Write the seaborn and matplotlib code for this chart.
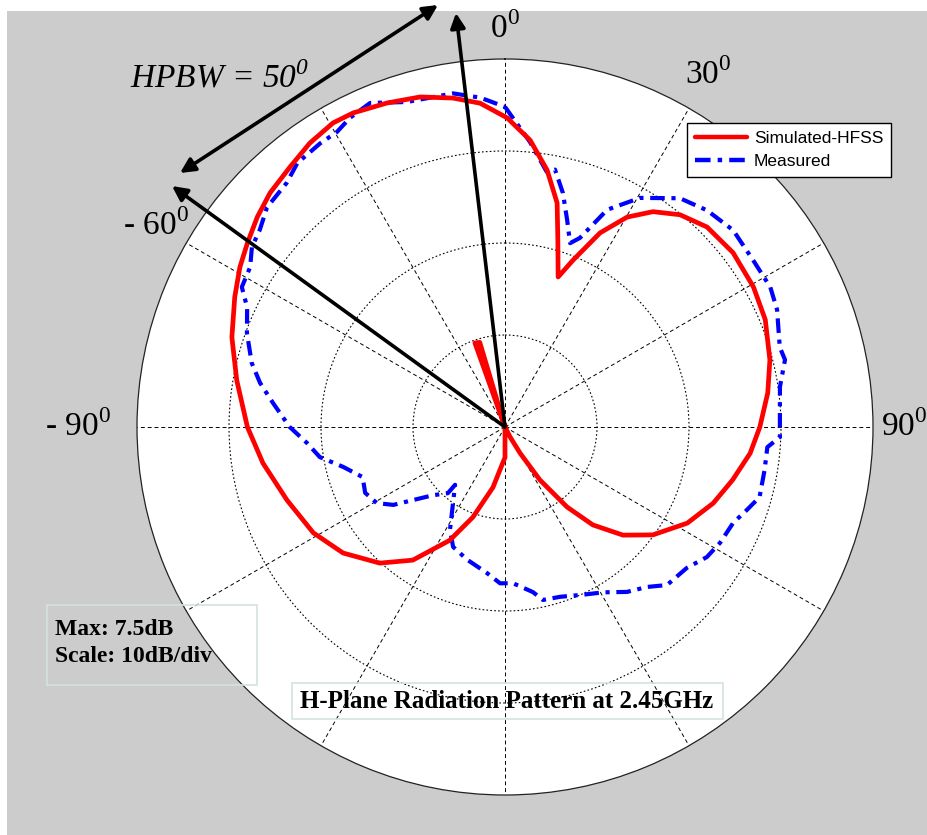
import numpy as np
import matplotlib
matplotlib.use("Agg")
import matplotlib.pyplot as plt
import seaborn as sns
from matplotlib.patches import Rectangle
from matplotlib.lines import Line2D

# ---------------- data (angle in degrees, clockwise from top; gain in dB) ----
sim_angle_deg = [-19.7, -19.7, -16.6, -16.6,
                 180, 180, -168.7, -160.4, -154.0, -145.3, -137.4, -127.9, -118.9,
                 -108.5, -98.5, -90, -80.1, -71.8, -64.3, -58.9, -54.5, -49.7, -45.1,
                 -39.6, -34.5, -29.5, -25.8, -20.0, -14.4, -9.0, -4.4, 0.4, 5.0, 9.3,
                 13.1, 15.8, 19.5,
                 22.2, 26.1, 30.2, 34.5, 39.5, 45.3, 52.6, 60.6, 67.6, 75.8, 82.6,
                 90, 96.1, 103.1, 110.1, 117.8, 126.1, 132.5, 138.1, 142.2, 146.6,
                 150.0, 153, 153]
sim_gain_db = [-32.5, -22.8, -22.9, -32.5,
               -32.5, -29.2, -25.8, -22.1, -18.8, -14.9, -12.4, -10.2, -8.7,
               -7.5, -5.9, -4.5, -2.9, -1.25, 0.1, 1.15, 1.9, 2.8, 3.55,
               4.17, 4.95, 5.47, 5.42, 4.98, 4.54, 3.7, 2.8, 1.1, -1.2, -4.2,
               -7.5, -11.4, -15.2,
               -12.9, -9.0, -6.1, -4.1, -2.6, -1.6, -1.3, -1.5, -1.9, -2.8, -3.7,
               -4.8, -5.7, -7.1, -8.4, -10.1, -12.6, -15.1, -18.2, -21.5, -25.6,
               -29.2, -31.3, -32.5]

meas_angle_deg = [0, 5.0, 9.3, 11.0, 13.9, 16.7, 19.5, 21.6, 24.0, 25.2, 30.5, 37.4,
                  43.0, 49.2, 56.0, 62.2, 66.7, 73.8, 76.5, 81.7, 87.9, 92.1, 94.4,
                  99.4, 105.4, 108.9, 112.8, 118.3, 122.8, 127.8, 134.3, 138.4,
                  143.5, 149.3, 155.1, 162.1, 167.6, 170.4, 177.1, -178.2, -173.0,
                  -164.1, -156.6, -151.9, -145.6, -139.2, -139.2, -133.4, -128.4,
                  -124.9, -120.7, -115.2, -109.4, -103.9, -99.2, -94.6, -90, -84.1,
                  -79.8, -75.8, -70.0, -65.1, -62.0, -57.9, -54.6, -51.2, -47.3,
                  -41.8, -38.2, -33.1, -29.7, -26.6, -22.6, -16.8, -8.85, -4.3, 0]
meas_gain_db = [2.3, -1.4, -4.4, -4.0, -6.3, -9.0, -11.3, -10.4, -7.9, -6.4, -3.6, -1.2,
                -0.3, 0.25, 0.0, 0.1, -0.3, -1.4, -1.2, -2.3, -2.6, -2.6, -3.9,
                -3.9, -3.8, -4.7, -5.6, -5.95, -6.4, -7.5, -7.9, -9.25,
                -10.2, -11.6, -12.4, -13.1, -13.25, -14.3, -15.5, -15.5, -16.5,
                -17.5, -18.3, -19.8, -22.5, -24.2, -23.0, -21.7, -19.7,
                -17.7, -16.3, -15.7, -16.1, -14.4, -12.1, -10.9, -9.1, -7.15,
                -5.45, -4.1, -2.65, -1.6, -0.1, 0.2, 1.25, 1.7, 2.7,
                3.1, 4.0, 4.3, 4.4, 5.1, 5.65, 4.4, 4.2, 3.4, 2.3]

series_names = ["Simulated-HFSS", "Measured"]
angle_label_deg = [0, 30, -60, -90, 90]
angle_label_text = ["0", "30", "- 60", "- 90", "90"]
angle_label_r = [10.8, 11.7, 11.3, 13.9, 10.9]
r_min, r_max = -32.5, 7.5
ring_levels = [-22.5, -12.5, -2.5]
spoke_angles = list(range(0, 360, 30))

# ---------------- figure ----------------
sns.set_style("white")
plt.rcParams['font.family'] = ['Liberation Serif', 'DejaVu Serif']
plt.rcParams['text.color'] = 'black'

W, H = 928, 835
fig = plt.figure(figsize=(W / 100, H / 100), dpi=100, facecolor='white')
fig.add_artist(Rectangle((7 / W, 0), 1 - 7 / W, (H - 11) / H, transform=fig.transFigure,
                         facecolor='#cccccc', edgecolor='none', zorder=-10))

cx, cy, R = 505, 427, 368
ax = fig.add_axes([(cx - R) / W, (H - cy - R) / H, 2 * R / W, 2 * R / H], projection='polar')
ax.set_facecolor('white')
ax.set_theta_zero_location('N')
ax.set_theta_direction(-1)

th_meas = np.unwrap(np.deg2rad(meas_angle_deg))
th_sim = np.unwrap(np.deg2rad(sim_angle_deg))

dash = (0, (3.5, 1.6, 1.0, 1.6))
sns.lineplot(x=th_meas, y=meas_gain_db, sort=False, estimator=None, ax=ax,
             color='#0000ff', lw=3.0, zorder=3)
ax.lines[-1].set_linestyle(dash)
sns.lineplot(x=th_sim, y=sim_gain_db, sort=False, estimator=None, ax=ax,
             color='#ff0000', lw=3.4, zorder=4)

ax.set_xlabel('')
ax.set_ylabel('')
ax.set_ylim(r_min, r_max)
ax.set_xticks(np.deg2rad(spoke_angles))
ax.set_xticklabels([])
ax.set_yticks(ring_levels)
ax.set_yticklabels([])
ax.tick_params(length=0)
ax.set_axisbelow(True)
ax.xaxis.grid(True, color='k', lw=0.7, linestyle=(0, (4, 3)))
ax.yaxis.grid(True, color='k', lw=0.8, linestyle=(0, (1.5, 2)))
ax.spines['polar'].set_color('#222222')
ax.spines['polar'].set_linewidth(0.9)

for a, t, rr in zip(angle_label_deg, angle_label_text, angle_label_r):
    ax.text(np.deg2rad(a), rr, t + r"$^{\mathregular{0}}$", ha='center', va='center',
            fontsize=24, clip_on=False, color='black')

# ---------------- annotations ----------------
def fp(x, y):
    return (x, H - y)

arrow_kw = dict(color='black', lw=2.6, mutation_scale=22, shrinkA=0, shrinkB=0)
ax.annotate('', xy=fp(438, 5), xycoords='figure pixels', xytext=fp(180, 173),
            textcoords='figure pixels', annotation_clip=False,
            arrowprops=dict(arrowstyle='<|-|>', **arrow_kw), zorder=6)
ax.annotate('', xy=fp(456, 13), xycoords='figure pixels', xytext=(0, r_min),
            textcoords='data', annotation_clip=False,
            arrowprops=dict(arrowstyle='-|>', **arrow_kw), zorder=6)
ax.annotate('', xy=fp(172, 186), xycoords='figure pixels', xytext=(0, r_min),
            textcoords='data', annotation_clip=False,
            arrowprops=dict(arrowstyle='-|>', **arrow_kw), zorder=6)

fig.text(130 / W, 1 - 87 / H, r"HPBW = 50$^{\mathregular{0}}$", ha='left', va='baseline',
         fontsize=24, fontstyle='italic', color='black')

# info box
fig.add_artist(Rectangle((47 / W, 1 - 685 / H), 210 / W, 80 / H, transform=fig.transFigure,
                         facecolor='none', edgecolor='#d4e4da', lw=1.2, zorder=7))
fig.text(55 / W, 1 - 643 / H, "Max: 7.5dB\nScale: 10dB/div", ha='left', va='center',
         fontsize=17, fontweight='bold', linespacing=1.35, zorder=8, color='black')

# title box
fig.add_artist(Rectangle((292 / W, 1 - 719 / H), 431 / W, 36 / H, transform=fig.transFigure,
                         facecolor='none', edgecolor='#d4e4da', lw=1.2, zorder=7))
fig.text(507 / W, 1 - 701 / H, "H-Plane Radiation Pattern at 2.45GHz", ha='center',
         va='center', fontsize=18, fontweight='bold', zorder=8, color='black')

# legend
handles = [Line2D([], [], color='#ff0000', lw=3.2),
           Line2D([], [], color='#0000ff', lw=3.2, linestyle=dash)]
leg = fig.legend(handles, series_names, loc='upper left',
                 bbox_to_anchor=(687 / W, 1 - 123 / H), bbox_transform=fig.transFigure,
                 frameon=True, fancybox=False, edgecolor='black', framealpha=1,
                 prop={'family': 'Liberation Sans', 'size': 12.5},
                 handlelength=3.0, handletextpad=0.4, borderpad=0.45,
                 labelspacing=0.45, borderaxespad=0)
leg.get_frame().set_linewidth(1.0)
leg.set_zorder(9)
for txt in leg.get_texts():
    txt.set_color('black')

fig.savefig('out.png', dpi=100, facecolor='white')
